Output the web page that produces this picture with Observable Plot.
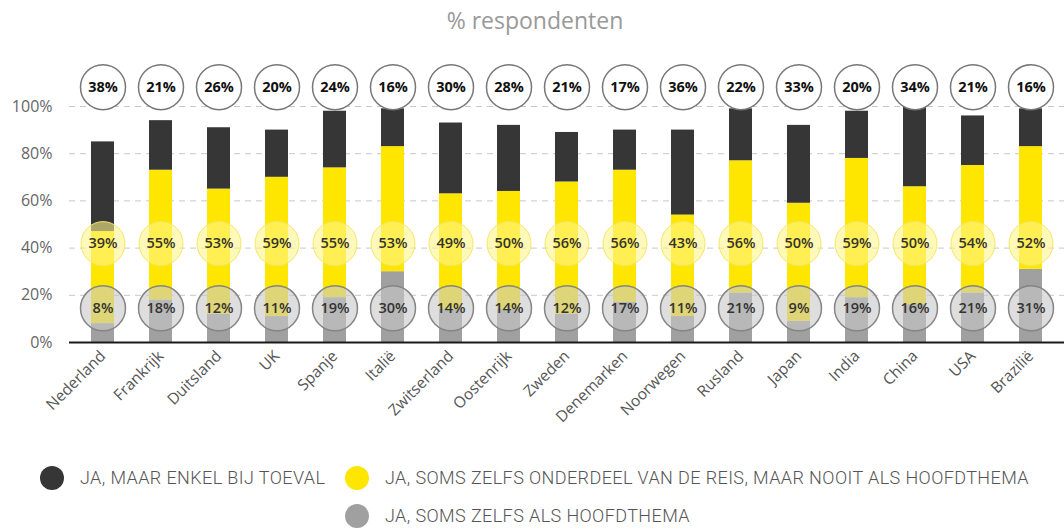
<!DOCTYPE html>
<html><head><meta charset="utf-8">
<script src="https://cdn.jsdelivr.net/npm/d3@7"></script>
<script src="https://cdn.jsdelivr.net/npm/@observablehq/plot@0.6"></script>
<style>
body{margin:0;background:#fff;width:1064px;height:529px;overflow:hidden;font-family:"Open Sans",sans-serif;}
#title{height:40px;line-height:40px;text-align:center;font-size:23px;color:#999;padding-left:6px;}
#chart{height:410px;}
#legend{position:relative;height:79px;font-family:Roboto,sans-serif;font-weight:300;font-size:18px;letter-spacing:0.4px;color:#555;}
.dot{position:absolute;width:24px;height:24px;border-radius:50%;}
.lab{position:absolute;line-height:24px;white-space:nowrap;}
</style>
</head><body>
<div id="title">% respondenten</div>
<div id="chart"></div>
<div id="legend"></div>
<script>
const countries = ["Nederland","Frankrijk","Duitsland","UK","Spanje","Italië","Zwitserland","Oostenrijk","Zweden","Denemarken","Noorwegen","Rusland","Japan","India","China","USA","Brazilië"];
const toeval    = [38,21,26,20,24,16,30,28,21,17,36,22,33,20,34,21,16];
const onderdeel = [39,55,53,59,55,53,49,50,56,56,43,56,50,59,50,54,52];
const hoofd     = [8,18,12,11,19,30,14,14,12,17,11,21,9,19,16,21,31];
const yTicks = [0,20,40,60,80,100];
const seriesKeys = ["hoofd","onderdeel","toeval"];
const seriesLabels = ["JA, SOMS ZELFS ALS HOOFDTHEMA","JA, SOMS ZELFS ONDERDEEL VAN DE REIS, MAAR NOOIT ALS HOOFDTHEMA","JA, MAAR ENKEL BIJ TOEVAL"];
const seriesColors = ["#a0a0a0","#ffe600","#363636"];
const bubbleRowY = {top:108.2, mid:41.9, low:14.5};

const values = {hoofd, onderdeel, toeval};
const long = [];
countries.forEach((c,i)=>{ seriesKeys.forEach(k=>long.push({country:c, series:k, value:values[k][i]})); });
const rows = countries.map((c,i)=>({country:c, toeval:toeval[i], onderdeel:onderdeel[i], hoofd:hoofd[i]}));

const chart = Plot.plot({
  width:1064, height:410, marginTop:66, marginBottom:108, marginLeft:69, marginRight:0,
  x:{domain:countries, paddingInner:0.61, paddingOuter:0.3},
  y:{domain:[0,100]},
  color:{domain:seriesKeys, range:seriesColors},
  style:{fontFamily:"'Open Sans', sans-serif", background:"#fff", overflow:"visible"},
  marks:[
    Plot.gridY(yTicks.filter(d=>d>0), {stroke:"#c8c8c8", strokeOpacity:1, strokeDasharray:"6,5"}),
    Plot.axisY({ticks:yTicks, tickFormat:d=>d+"%", tickSize:0, tickPadding:17, fontSize:16, color:"#666", label:null}),
    Plot.axisX({tickSize:0, tickRotate:-45, tickPadding:11, fontSize:15.5, color:"#555", label:null}),
    Plot.barY(long, {x:"country", y:"value", fill:"series"}),
    Plot.ruleY([0], {stroke:"#1a1a1a", strokeWidth:2}),
    Plot.dot(rows, {x:"country", y:()=>bubbleRowY.top, r:22.5, fill:"#fff", stroke:"#777", strokeWidth:1.5}),
    Plot.text(rows, {x:"country", y:()=>bubbleRowY.top, text:d=>d.toeval+"%", fontSize:14.5, fontWeight:700, fill:"#111"}),
    Plot.dot(rows, {x:"country", y:()=>bubbleRowY.mid, r:22, fill:"#fff58a", fillOpacity:0.6, stroke:"#f3e66a", strokeWidth:1}),
    Plot.text(rows, {x:"country", y:()=>bubbleRowY.mid, text:d=>d.onderdeel+"%", fontSize:14.5, fontWeight:600, fill:"#333"}),
    Plot.dot(rows, {x:"country", y:()=>bubbleRowY.low, r:22.5, fill:"#c8c8c8", fillOpacity:0.6, stroke:"#858585", strokeWidth:1.5}),
    Plot.text(rows, {x:"country", y:()=>bubbleRowY.low, text:d=>d.hoofd+"%", fontSize:14.5, fontWeight:600, fill:"#333"})
  ]
});
document.getElementById("chart").appendChild(chart);

// legend
const legend = document.getElementById("legend");
const items = [
  {i:2, left:40, top:16},
  {i:1, left:345, top:16},
  {i:0, left:345, top:54}
];
items.forEach(it=>{
  const d = document.createElement("div");
  d.className="dot"; d.style.left=it.left+"px"; d.style.top=it.top+"px"; d.style.background=seriesColors[it.i];
  legend.appendChild(d);
  const l = document.createElement("div");
  l.className="lab"; l.style.left=(it.left+40)+"px"; l.style.top=it.top+"px"; l.textContent=seriesLabels[it.i];
  legend.appendChild(l);
});
</script>
</body></html>
